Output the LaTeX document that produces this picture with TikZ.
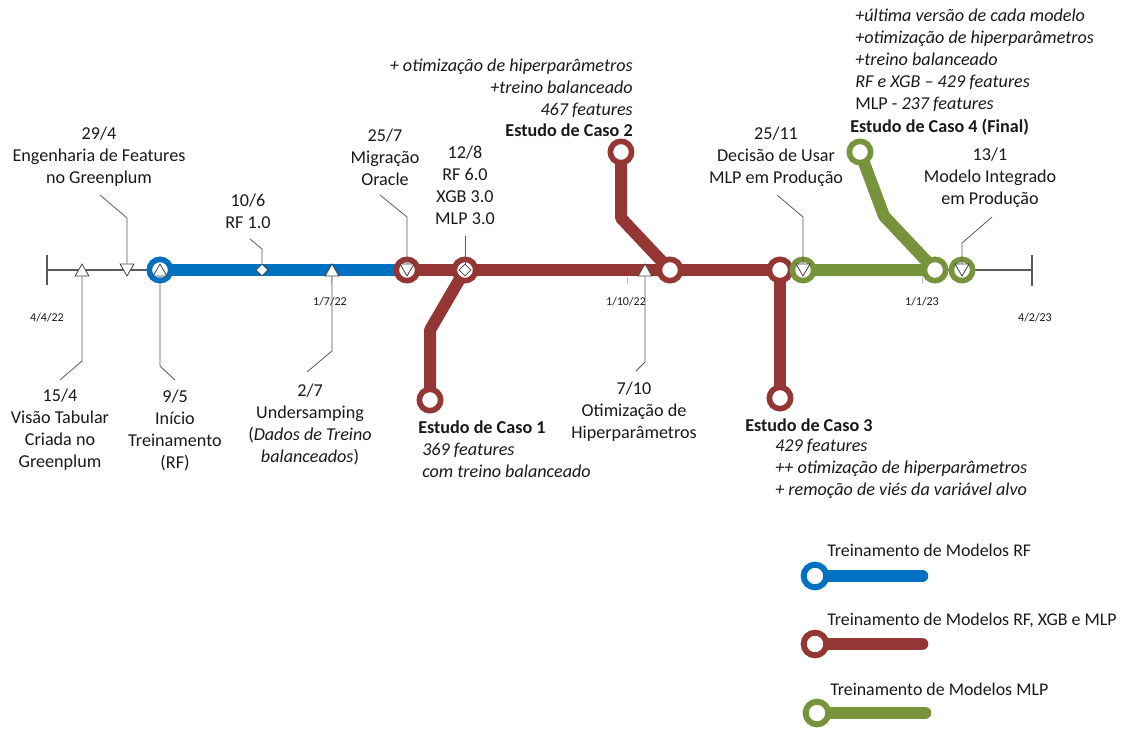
\documentclass[tikz,border=0pt]{standalone}
\usepackage{fontspec}
\setmainfont{Carlito}
\usetikzlibrary{shapes.geometric,backgrounds}

\definecolor{rfblue}{HTML}{0070C0}
\definecolor{allred}{HTML}{943634}
\definecolor{mlpgreen}{HTML}{77933C}
\definecolor{axisgray}{HTML}{595959}
\definecolor{tickgray}{HTML}{B4C6DC}

\begin{document}
\begin{tikzpicture}[x=0.75pt,y=-0.75pt,
  every node/.style={font=\fontsize{13.6}{16.5}\selectfont, inner sep=0pt, text=black!90},
  track/.style={line width=9pt, line cap=round, line join=round},
  station/.style={circle, draw=#1, line width=4.2pt, fill=white, minimum size=16pt},
  legstation/.style={station=#1, line width=4.5pt, minimum size=17pt},
  axis/.style={draw=axisgray, line width=0.8pt},
  callout/.style={draw=axisgray, line width=0.6pt},
  datetick/.style={draw=tickgray, line width=0.6pt},
  uptri/.style={regular polygon, regular polygon sides=3, draw=black!75, fill=white, line width=0.6pt, minimum size=12pt},
  downtri/.style={uptri, shape border rotate=180},
  gem/.style={diamond, draw=black!75, fill=white, line width=0.6pt, minimum size=9pt},
  event/.style={align=center},
  datelbl/.style={font=\fontsize{9}{10}\selectfont},
  casetitle/.style={font=\fontsize{13.6}{16.5}\selectfont\bfseries},
  notes/.style={font=\fontsize{13.6}{16.5}\selectfont\itshape},
  legtext/.style={anchor=west, font=\fontsize{13.4}{15}\selectfont}
]
\useasboundingbox (0,0) rectangle (1130,728);

% ---------- stations on the line ----------
\node[station=rfblue]   (s1) at (160,270) {};
\node[station=allred]   (s2) at (407,270) {};
\node[station=allred]   (s3) at (465,270) {};
\node[station=allred]   (s4) at (670,270) {};
\node[station=allred]   (s5) at (780,270) {};
\node[station=mlpgreen] (s6) at (803,270) {};
\node[station=mlpgreen] (s7) at (935,270) {};
\node[station=mlpgreen] (s8) at (962,270) {};
% branch terminals (case studies)
\node[station=allred]   (c1) at (430,400) {};
\node[station=allred]   (c2) at (621,152) {};
\node[station=allred]   (c3) at (780,398) {};
\node[station=mlpgreen] (c4) at (860,152) {};
\coordinate (c1bend) at (430,330);
\coordinate (c2bend) at (621,218);
\coordinate (c4bend) at (884,216);

% axis ends
\coordinate (axL) at (47,270);
\coordinate (axR) at (1032,270);

\begin{pgfonlayer}{background}
  \draw[axis] (axL) -- (axR);
  \draw[axis] (47,255) -- (47,285);
  \draw[axis] (1032,255) -- (1032,286);
  \draw[track, rfblue] (s1.center) -- (s2.center);
  \draw[track, allred] (s2.center) -- (s5.center);
  \draw[track, allred] (s3.center) -- (c1bend) -- (c1.center);
  \draw[track, allred] (s4.center) -- (c2bend) -- (c2.center);
  \draw[track, allred] (s5.center) -- (c3.center);
  \draw[track, mlpgreen] (s6.center) -- (s7.center) -- (c4bend) -- (c4.center);
\end{pgfonlayer}

% date ticks under the line
\draw[datetick] (331,277) -- (331,284);
\draw[datetick] (627,277) -- (627,284);
\draw[datetick] (922,277) -- (922,284);

% ---------- event markers ----------
\node[uptri]   (m154)  at (82,272)  {};
\node[downtri] (m294)  at (127,268) {};
\node[uptri]   (m95)   at (160,272) {};
\node[gem]     (m106)  at (262,270) {};
\node[uptri]   (m27)   at (332,272) {};
\node[downtri] (m257)  at (407,268) {};
\node[gem]     (m128)  at (465,270) {};
\node[uptri]   (m710)  at (645,272) {};
\node[downtri] (m2511) at (803,268) {};
\node[downtri] (m131)  at (962,268) {};

% ---------- date labels ----------
\node[datelbl] (d1) at (47,318)   {4/4/22};
\node[datelbl] (d2) at (330,302)  {1/7/22};
\node[datelbl] (d3) at (626,302)  {1/10/22};
\node[datelbl] (d4) at (922,302)  {1/1/23};
\node[datelbl] (d5) at (1035,318) {4/2/23};

% ---------- events above the line ----------
\node[event] (t294)  at (99,157)  {29/4\\Engenharia de Features\\no Greenplum};
\node[event] (t106)  at (248,211) {10/6\\RF 1.0};
\node[event] (t257)  at (385,157) {25/7\\Migração\\Oracle};
\node[event] (t128)  at (465,185) {12/8\\RF 6.0\\XGB 3.0\\MLP 3.0};
\node[event] (t2511) at (776,157) {25/11\\Decisão de Usar\\MLP em Produção};
\node[event] (t131)  at (990,178) {13/1\\Modelo Integrado\\em Produção};

% ---------- events below the line ----------
\node[event] (t154) at (60,430)  {15/4\\Visão Tabular\\Criada no\\Greenplum};
\node[event] (t95)  at (175,430) {9/5\\Início\\Treinamento\\(RF)};
\node[event] (t27)  at (310,424) {2/7\\Undersamping\\(\textit{Dados de Treino}\\\textit{balanceados})};
\node[event] (t710) at (634,412) {7/10\\Otimização de\\Hiperparâmetros};

% ---------- callouts ----------
\coordinate (k294a) at (100,195);  \coordinate (k294b) at (127,218);
\coordinate (k106a) at (250,239);  \coordinate (k106b) at (262,249);
\coordinate (k257a) at (380,195);  \coordinate (k257b) at (407,217);
\coordinate (k128a) at (465,236);
\coordinate (k2511a) at (777,195); \coordinate (k2511b) at (803,217);
\coordinate (k131a) at (992,217);  \coordinate (k131b) at (962,243);
\coordinate (k154b) at (82,361);   \coordinate (k154a) at (60,380);
\coordinate (k95b) at (160,366);   \coordinate (k95a) at (175,380);
\coordinate (k27b) at (332,351);   \coordinate (k27a) at (307,372);
\coordinate (k710b) at (645,362);  \coordinate (k710a) at (636,371);

\draw[callout] (k294a) -- (k294b) -- (m294);
\draw[callout] (k106a) -- (k106b) -- (m106);
\draw[callout] (k257a) -- (k257b) -- (m257);
\draw[callout] (k128a) -- (m128);
\draw[callout] (k2511a) -- (k2511b) -- (m2511);
\draw[callout] (k131a) -- (k131b) -- (m131);
\draw[callout] (m154) -- (k154b) -- (k154a);
\draw[callout] (m95) -- (k95b) -- (k95a);
\draw[callout] (m27) -- (k27b) -- (k27a);
\draw[callout] (m710) -- (k710b) -- (k710a);

% ---------- case studies ----------
\node[notes, align=right, anchor=east] (n2) at (633,88)
  {+ otimização de hiperparâmetros\\+treino balanceado\\467 features};
\node[casetitle, anchor=east] (e2) at (633,130) {Estudo de Caso 2};

\node[notes, align=left, anchor=west] (n4) at (855,60)
  {+última versão de cada modelo\\+otimização de hiperparâmetros\\+treino balanceado\\RF e XGB – 429 features\\\upshape MLP - \itshape 237 features};
\node[casetitle, anchor=west] (e4) at (850,127) {Estudo de Caso 4 (Final)};

\node[casetitle, anchor=west] (e1) at (418,427) {Estudo de Caso 1};
\node[notes, align=left, anchor=west] (n1) at (422,460)
  {369 features\\com treino balanceado};

\node[casetitle, anchor=west] (e3) at (745,425) {Estudo de Caso 3};
\node[notes, align=left, anchor=west] (n3) at (775,469)
  {429 features\\++ otimização de hiperparâmetros\\+ remoção de viés da variável alvo};

% ---------- legend ----------
\node[legtext] (l1) at (827,550) {Treinamento de Modelos RF};
\node[legstation=rfblue] (ls1) at (815,576) {};
\coordinate (le1) at (922,576);
\node[legtext] (l2) at (827,620) {Treinamento de Modelos RF, XGB e MLP};
\node[legstation=allred] (ls2) at (815,644) {};
\coordinate (le2) at (922,644);
\node[legtext] (l3) at (830,689) {Treinamento de Modelos MLP};
\node[legstation=mlpgreen] (ls3) at (817,713) {};
\coordinate (le3) at (925,713);
\begin{pgfonlayer}{background}
  \draw[track, line width=9.5pt, rfblue] (ls1.center) -- (le1);
  \draw[track, line width=9.5pt, allred] (ls2.center) -- (le2);
  \draw[track, line width=9.5pt, mlpgreen] (ls3.center) -- (le3);
\end{pgfonlayer}
\end{tikzpicture}
\end{document}
